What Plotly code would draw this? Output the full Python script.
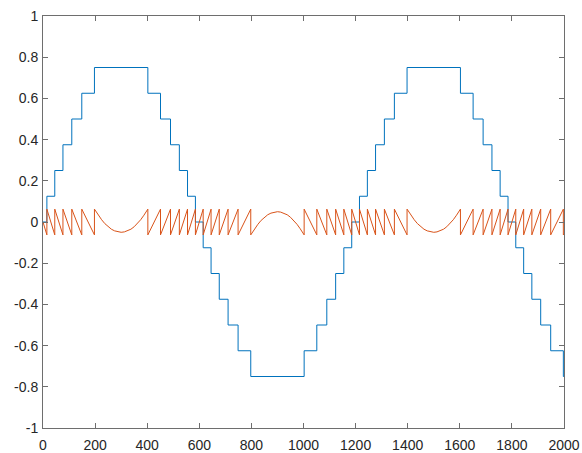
import plotly.graph_objects as go

# Quantized signal (staircase): x where each level starts, and the level
step_x = [0, 14.9, 45.2, 76.6, 110.5, 148.9, 197.5,
          402.5, 451.1, 489.5, 523.4, 554.8, 585.1, 614.9, 645.2, 676.6, 710.5, 748.9, 797.5,
          1002.5, 1051.1, 1089.5, 1123.4, 1154.8, 1185.1,
          1214.9, 1245.2, 1276.6, 1310.5, 1348.9, 1397.5,
          1602.5, 1651.1, 1689.5, 1723.4, 1754.8, 1785.1, 1814.9, 1845.2, 1876.6, 1910.5, 1948.9, 1997.5,
          2000]
step_y = [0, 0.125, 0.25, 0.375, 0.5, 0.625, 0.75,
          0.625, 0.5, 0.375, 0.25, 0.125, 0, -0.125, -0.25, -0.375, -0.5, -0.625, -0.75,
          -0.625, -0.5, -0.375, -0.25, -0.125, 0,
          0.125, 0.25, 0.375, 0.5, 0.625, 0.75,
          0.625, 0.5, 0.375, 0.25, 0.125, 0, -0.125, -0.25, -0.375, -0.5, -0.625, -0.75,
          -0.75]

# Quantization error curve, region by region
err_x_a = [0, 14.9, 14.9, 45.2, 45.2, 76.6, 76.6, 110.5, 110.5, 148.9, 148.9, 197.5, 197.5]
err_y_a = [0, -0.0625, 0.0625, -0.0625, 0.0625, -0.0625, 0.0625, -0.0625, 0.0625, -0.0625, 0.0625, -0.0625, 0.0625]

err_x_arc1 = [212.5, 225, 237.5, 250, 262.5, 275, 287.5, 300, 312.5, 325, 337.5, 350, 362.5, 375, 387.5]
err_y_arc1 = [0.033, 0.011, -0.008, -0.023, -0.035, -0.043, -0.048, -0.05, -0.048, -0.043, -0.035, -0.023, -0.008, 0.011, 0.033]

err_x_b = [402.5, 402.5, 451.1, 451.1, 489.5, 489.5, 523.4, 523.4, 554.8, 554.8, 585.1, 585.1,
           614.9, 614.9, 645.2, 645.2, 676.6, 676.6, 710.5, 710.5, 748.9, 748.9, 797.5, 797.5]
err_y_b = [0.0625, -0.0625, 0.0625, -0.0625, 0.0625, -0.0625, 0.0625, -0.0625, 0.0625, -0.0625, 0.0625, -0.0625,
           0.0625, -0.0625, 0.0625, -0.0625, 0.0625, -0.0625, 0.0625, -0.0625, 0.0625, -0.0625, 0.0625, -0.0625]

err_x_arc2 = [812.5, 825, 837.5, 850, 862.5, 875, 887.5, 900, 912.5, 925, 937.5, 950, 962.5, 975, 987.5]
err_y_arc2 = [-0.033, -0.011, 0.008, 0.023, 0.035, 0.043, 0.048, 0.05, 0.048, 0.043, 0.035, 0.023, 0.008, -0.011, -0.033]

err_x_c = [1002.5, 1002.5, 1051.1, 1051.1, 1089.5, 1089.5, 1123.4, 1123.4, 1154.8, 1154.8, 1185.1, 1185.1,
           1214.9, 1214.9, 1245.2, 1245.2, 1276.6, 1276.6, 1310.5, 1310.5, 1348.9, 1348.9, 1397.5, 1397.5]
err_y_c = [-0.0625, 0.0625, -0.0625, 0.0625, -0.0625, 0.0625, -0.0625, 0.0625, -0.0625, 0.0625, -0.0625, 0.0625,
           -0.0625, 0.0625, -0.0625, 0.0625, -0.0625, 0.0625, -0.0625, 0.0625, -0.0625, 0.0625, -0.0625, 0.0625]

err_x_arc3 = [1412.5, 1425, 1437.5, 1450, 1462.5, 1475, 1487.5, 1500, 1512.5, 1525, 1537.5, 1550, 1562.5, 1575, 1587.5]
err_y_arc3 = [0.033, 0.011, -0.008, -0.023, -0.035, -0.043, -0.048, -0.05, -0.048, -0.043, -0.035, -0.023, -0.008, 0.011, 0.033]

err_x_d = [1602.5, 1602.5, 1651.1, 1651.1, 1689.5, 1689.5, 1723.4, 1723.4, 1754.8, 1754.8, 1785.1, 1785.1,
           1814.9, 1814.9, 1845.2, 1845.2, 1876.6, 1876.6, 1910.5, 1910.5, 1948.9, 1948.9, 1997.5, 1997.5, 2000]
err_y_d = [0.0625, -0.0625, 0.0625, -0.0625, 0.0625, -0.0625, 0.0625, -0.0625, 0.0625, -0.0625, 0.0625, -0.0625,
           0.0625, -0.0625, 0.0625, -0.0625, 0.0625, -0.0625, 0.0625, -0.0625, 0.0625, -0.0625, 0.0625, -0.0625, -0.057]

x_ticks = [0, 200, 400, 600, 800, 1000, 1200, 1400, 1600, 1800, 2000]
x_tick_labels = ["0", "200", "400", "600", "800", "1000", "1200", "1400", "1600", "1800", "2000"]
y_ticks = [-1, -0.8, -0.6, -0.4, -0.2, 0, 0.2, 0.4, 0.6, 0.8, 1]
y_tick_labels = ["-1", "-0.8", "-0.6", "-0.4", "-0.2", "0", "0.2", "0.4", "0.6", "0.8", "1"]

err_x = err_x_a + err_x_arc1 + err_x_b + err_x_arc2 + err_x_c + err_x_arc3 + err_x_d
err_y = err_y_a + err_y_arc1 + err_y_b + err_y_arc2 + err_y_c + err_y_arc3 + err_y_d

fig = go.Figure()
fig.add_trace(go.Scatter(x=step_x, y=step_y, mode="lines", line=dict(color="#0072BD", width=1, shape="hv"),
                         showlegend=False, hoverinfo="skip"))
fig.add_trace(go.Scatter(x=err_x, y=err_y, mode="lines", line=dict(color="#D95319", width=1),
                         showlegend=False, hoverinfo="skip"))

axis_common = dict(showgrid=False, zeroline=False, showline=True, linecolor="#6e6e6e", linewidth=1,
                   mirror="ticks", ticks="inside", ticklen=5, tickcolor="#6e6e6e", tickwidth=1,
                   automargin=False,
                   tickfont=dict(family="Liberation Sans, Arial, sans-serif", size=14, color="#262626"))
fig.update_xaxes(range=[0, 2000], tickmode="array", tickvals=x_ticks, ticktext=x_tick_labels,
                 ticklabelstandoff=4, **axis_common)
fig.update_yaxes(range=[-1, 1], tickmode="array", tickvals=y_ticks, ticktext=y_tick_labels,
                 ticklabelstandoff=1, **axis_common)

fig.update_layout(width=582, height=453, autosize=False,
                  margin=dict(l=43, r=18, t=16, b=25, autoexpand=False),
                  plot_bgcolor="white", paper_bgcolor="white")

fig.write_html("out.html", config={"displayModeBar": False},
               post_script="document.body.style.margin='0';")
